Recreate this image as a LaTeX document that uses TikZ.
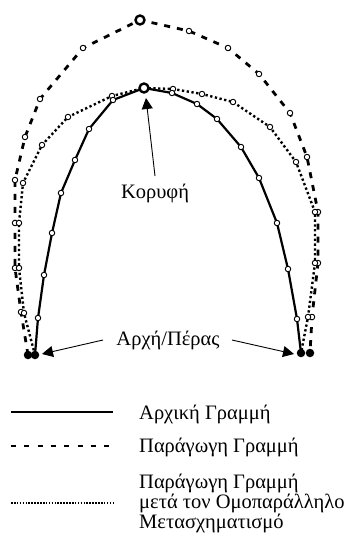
\documentclass[tikz,border=0pt]{standalone}
\usepackage{fontspec}
\setmainfont{Liberation Serif}
\usetikzlibrary{arrows.meta}
\begin{document}
\begin{tikzpicture}[x=1pt,y=-1pt,
  pt/.style={circle,draw=black,fill=white,line width=0.9pt,inner sep=0pt,minimum size=5.5pt},
  apex/.style={circle,draw=black,fill=white,line width=2.4pt,inner sep=0pt,minimum size=9pt},
  endpt/.style={circle,fill=black,inner sep=0pt,minimum size=8.5pt},
  solidline/.style={line width=2.2pt,line join=round},
  dashline/.style={line width=2.8pt,dash pattern=on 6pt off 7pt},
  dotline/.style={line width=2.4pt,dash pattern=on 2.3pt off 2.5pt},
  lbl/.style={font=\fontsize{20.5}{20}\selectfont,inner sep=0pt},
  pointer/.style={line width=0.9pt,-{Triangle[length=11pt,width=11pt]}}]
\useasboundingbox (0,0) rectangle (355,535);
% solid line points
\foreach \n/\p in {1/{35,355},2/{38,318},3/{44,275},4/{52,233},5/{61,193},6/{75,160},7/{89,129},8/{113,100},9/{144,88},10/{172,93},11/{197,104},12/{217,119},13/{241,147},14/{259,178},15/{277,223},16/{288,269},17/{297,319},18/{301,353}}
  {\coordinate (s\n) at (\p);}
% dashed line points
\foreach \n/\p in {1/{28,355},2/{21,312},3/{15,268},4/{15,223},5/{15,180},6/{25,137},7/{40,99},8/{83,48},9/{140,20},10/{189,31},11/{228,48},12/{259,74},13/{290,113},14/{307,157},15/{318,212},16/{318,263},17/{312,317},18/{310,353}}
  {\coordinate (d\n) at (\p);}
% dotted line points
\foreach \n/\p in {1/{35,355},2/{24,313},3/{19,268},4/{19,223},5/{23,183},6/{42,145},7/{68,117},8/{112,96},9/{144,88},10/{173,89},11/{202,94},12/{233,102},13/{270,127},14/{296,162},15/{315,212},16/{315,263},17/{308,317},18/{301,353}}
  {\coordinate (t\n) at (\p);}
\draw[dashline] (d1) \foreach \i in {2,...,18}{ -- (d\i)};
\draw[dotline] (t1) \foreach \i in {2,...,18}{ -- (t\i)};
\draw[solidline] (s1) \foreach \i in {2,...,18}{ -- (s\i)};
\foreach \i in {2,...,8,10,11,...,17}{
  \node[pt] (ds\i) at (d\i) {};
  \node[pt] (ts\i) at (t\i) {};
  \node[pt] (ss\i) at (s\i) {};
}
\node[apex] (dapex) at (d9) {};
\node[apex] (sapex) at (s9) {};
\node[endpt] (e1) at (d1) {};
\node[endpt] (e2) at (s1) {};
\node[endpt] (e3) at (s18) {};
\node[endpt] (e4) at (d18) {};
% labels
\node[lbl,anchor=base] (kor) at (155,198) {Κορυφή};
\coordinate (korTail) at (155,176);
\coordinate (korTip) at (146,98);
\draw[pointer] (korTail) -- (korTip);
\node[lbl,anchor=base] (arx) at (168,345) {Αρχή/Πέρας};
\coordinate (aL) at (103,340);
\coordinate (aLtip) at (42,354);
\coordinate (aR) at (232,340);
\coordinate (aRtip) at (294,354);
\draw[pointer] (aL) -- (aLtip);
\draw[pointer] (aR) -- (aRtip);
% legend
\coordinate (l1a) at (11,412); \coordinate (l1b) at (113,412);
\coordinate (l2a) at (11,446); \coordinate (l2b) at (113,446);
\coordinate (l3a) at (11,503); \coordinate (l3b) at (113,503);
\draw[line width=2.4pt] (l1a) -- (l1b);
\draw[line width=2.8pt,dash pattern=on 5pt off 8.3pt] (l2a) -- (l2b);
\draw[line width=2.2pt,dash pattern=on 1.6pt off 1.3pt] (l3a) -- (l3b);
\node[lbl,anchor=base west] (tx1) at (139,419) {Αρχική Γραμμή};
\node[lbl,anchor=base west] (tx2) at (139,452) {Παράγωγη Γραμμή};
\node[lbl,anchor=base west] (tx3) at (139,488) {Παράγωγη Γραμμή};
\node[lbl,anchor=base west] (tx4) at (139,508) {μετά τον Ομοπαράλληλο};
\node[lbl,anchor=base west] (tx5) at (139,528) {Μετασχηματισμό};
\end{tikzpicture}
\end{document}
